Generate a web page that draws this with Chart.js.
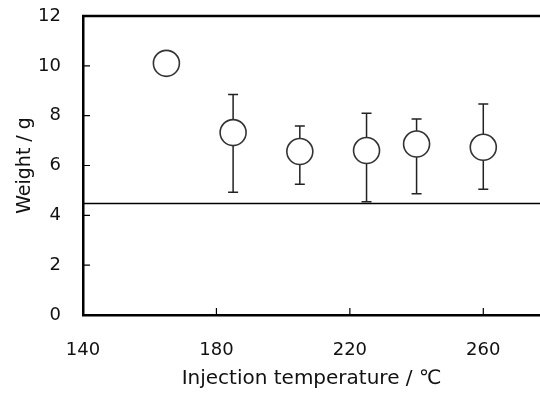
<!DOCTYPE html>
<html>
<head>
<meta charset="utf-8">
<script src="https://cdn.jsdelivr.net/npm/chart.js@4.4.0/dist/chart.umd.min.js"></script>
<style>
  html, body { margin: 0; padding: 0; background: #fff; }
  #wrap { width: 540px; height: 398px; }
</style>
</head>
<body>
<div id="wrap"><canvas id="weightChart" width="540" height="398"></canvas></div>
<script>
// injection temperature (°C) and mean weight (g)
const temps = [165, 185, 205, 225, 240, 260];
const weights = [10.1, 7.32, 6.56, 6.6, 6.86, 6.73];
// error bar ends
const errHigh = [null, 8.85, 7.59, 8.1, 7.87, 8.47];
const errLow = [null, 4.93, 5.25, 4.55, 4.87, 5.05];
// reference level line
const refLevel = 4.5;
const xTicks = [140, 180, 220, 260];
const yTicks = [0, 2, 4, 6, 8, 10, 12];

const FONT = "'DejaVu Sans', sans-serif";

// ------------------ Error bars + inward ticks + frame ------------------
const extrasPlugin = {
  id: "extras",
  beforeDatasetsDraw(chart) {
    const { ctx, chartArea, scales: { x, y } } = chart;
    ctx.save();
    // reference line
    const ly = Math.round(y.getPixelForValue(refLevel)) + 0.5;
    ctx.strokeStyle = "#000";
    ctx.lineWidth = 1.3;
    ctx.beginPath();
    ctx.moveTo(chartArea.left, ly);
    ctx.lineTo(chartArea.right, ly);
    ctx.stroke();

    // error bars
    ctx.strokeStyle = "#222";
    ctx.lineWidth = 1.5;
    temps.forEach((t, i) => {
      if (errHigh[i] == null) return;
      const px = x.getPixelForValue(t);
      const top = y.getPixelForValue(errHigh[i]);
      const bot = y.getPixelForValue(errLow[i]);
      ctx.beginPath();
      ctx.moveTo(px, top); ctx.lineTo(px, bot);
      ctx.moveTo(px - 5, top); ctx.lineTo(px + 5, top);
      ctx.moveTo(px - 5, bot); ctx.lineTo(px + 5, bot);
      ctx.stroke();
    });

    // inward tick marks
    ctx.strokeStyle = "#000";
    ctx.lineWidth = 1.2;
    ctx.beginPath();
    yTicks.slice(1, -1).forEach(v => {
      const py = y.getPixelForValue(v);
      ctx.moveTo(chartArea.left, py); ctx.lineTo(chartArea.left + 7, py);
    });
    xTicks.slice(1).forEach(v => {
      const px = x.getPixelForValue(v);
      ctx.moveTo(px, chartArea.bottom); ctx.lineTo(px, chartArea.bottom - 7);
    });
    ctx.stroke();

    // top frame line
    ctx.lineWidth = 2.5;
    ctx.beginPath();
    ctx.moveTo(chartArea.left - 1, chartArea.top);
    ctx.lineTo(chartArea.right, chartArea.top);
    ctx.stroke();
    ctx.restore();
  }
};

const ctx = document.getElementById("weightChart").getContext("2d");
new Chart(ctx, {
  type: "scatter",
  data: {
    datasets: [{
      data: temps.map((t, i) => ({ x: t, y: weights[i] })),
      pointRadius: 13,
      pointBorderWidth: 1.6,
      pointBorderColor: "#333",
      pointBackgroundColor: "#fff",
      pointStyle: "circle"
    }]
  },
  options: {
    responsive: false,
    animation: false,
    layout: { autoPadding: false, padding: { top: 16, right: 0, left: 0, bottom: 0 } },
    plugins: { legend: { display: false }, tooltip: { enabled: false } },
    scales: {
      x: {
        type: "linear",
        min: 140,
        max: 277,
        afterBuildTicks: s => { s.ticks = xTicks.map(v => ({ value: v })); },
        afterFit: s => { s.height = 83; s.paddingLeft = 0; s.paddingRight = 0; },
        grid: { display: false, drawTicks: false },
        border: { display: true, color: "#000", width: 2.5 },
        ticks: { color: "#111", padding: 25, font: { family: FONT, size: 18 } },
        title: {
          display: true,
          text: "Injection temperature / ℃",
          color: "#111",
          font: { family: FONT, size: 20 },
          padding: { bottom: 7 }
        }
      },
      y: {
        min: 0,
        max: 12,
        afterBuildTicks: s => { s.ticks = yTicks.map(v => ({ value: v })); },
        afterFit: s => { s.width = 83; s.paddingTop = 0; s.paddingBottom = 0; },
        grid: { display: false, drawTicks: false },
        border: { display: true, color: "#000", width: 2.5 },
        ticks: { color: "#111", padding: 22, font: { family: FONT, size: 18 } },
        title: {
          display: true,
          text: "Weight / g",
          color: "#111",
          font: { family: FONT, size: 19 },
          padding: { top: 14 }
        }
      }
    }
  },
  plugins: [extrasPlugin]
});
</script>
</body>
</html>
